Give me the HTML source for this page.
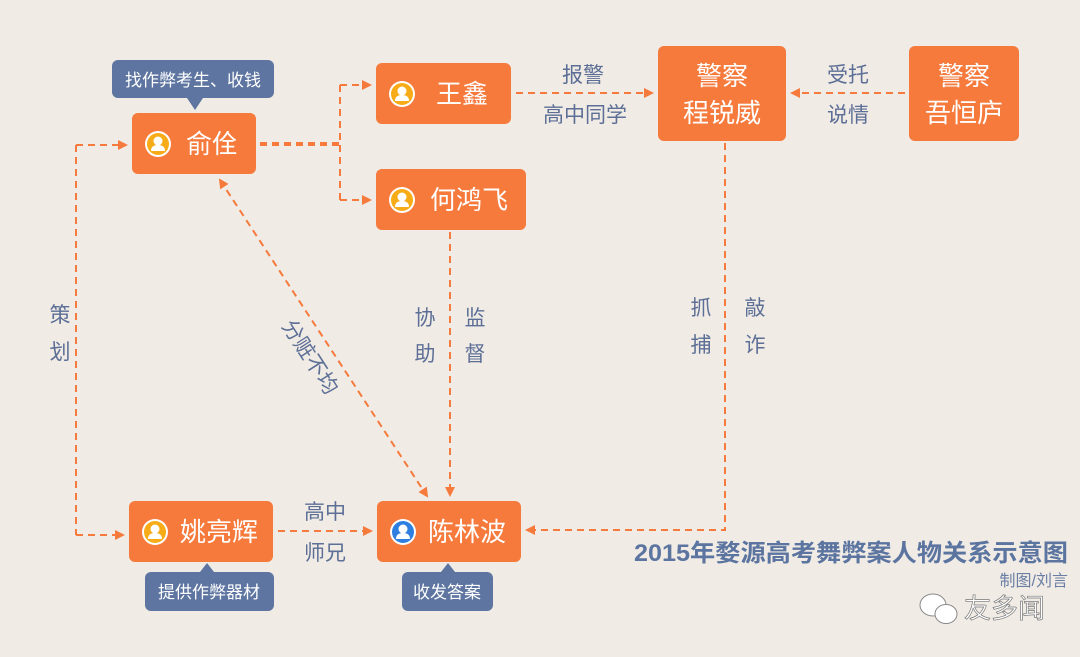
<!DOCTYPE html>
<html><head><meta charset="utf-8"><style>
html,body{margin:0;padding:0;background:#f0ebe5;}
svg{display:block;}
text{font-family:"Liberation Sans","Noto Sans CJK SC",sans-serif;}
</style></head><body>
<svg width="1080" height="657" viewBox="0 0 1080 657" xmlns="http://www.w3.org/2000/svg">
<defs>
<marker id="ah" markerWidth="10" markerHeight="10" refX="8" refY="5" orient="auto" markerUnits="userSpaceOnUse"><path d="M0,0 L10,5 L0,10 Z" fill="#f57a3c"/></marker>
<marker id="ahs" markerWidth="10" markerHeight="10" refX="2" refY="5" orient="auto" markerUnits="userSpaceOnUse"><path d="M10,0 L0,5 L10,10 Z" fill="#f57a3c"/></marker>
<g id="ico"><circle r="13" fill="#fff"/><circle r="11" fill="#f7ab16"/><circle cy="-3" r="4.5" fill="#fff"/><path d="M-7,7 Q-7,1 0,1 Q7,1 7,7 Z" fill="#fff"/></g>
<g id="icob"><circle r="13" fill="#fff"/><circle r="11" fill="#2f7fe0"/><circle cy="-3" r="4.5" fill="#fff"/><path d="M-7,7 Q-7,1 0,1 Q7,1 7,7 Z" fill="#fff"/></g>
</defs>
<g fill="none" stroke="#f57a3c" stroke-width="2" stroke-dasharray="7,5">
<path d="M260,144 L340,144" stroke-width="4"/>
<path d="M340,85 L340,200"/>
<path d="M340,85 L370,85" marker-end="url(#ah)"/>
<path d="M340,200 L370,200" marker-end="url(#ah)"/>
<path d="M516,93 L652,93" marker-end="url(#ah)"/>
<path d="M905,93 L792,93" marker-end="url(#ah)"/>
<path d="M725,143 L725,530 L527,530" marker-end="url(#ah)"/>
<path d="M450,232 L450,495" marker-end="url(#ah)"/>
<path d="M76,145 L76,535"/>
<path d="M76,145 L126,145" marker-end="url(#ah)"/>
<path d="M76,535 L123,535" marker-end="url(#ah)"/>
<path d="M220,180 L427,496" marker-start="url(#ahs)" marker-end="url(#ah)"/>
<path d="M278,531 L371,531" marker-end="url(#ah)"/>
</g>
<g fill="#f57a3c">
<rect x="132" y="113" width="124" height="61" rx="6"/>
<rect x="376" y="63" width="135" height="61" rx="6"/>
<rect x="376" y="169" width="150" height="61" rx="6"/>
<rect x="658" y="46" width="128" height="95" rx="6"/>
<rect x="909" y="46" width="110" height="95" rx="6"/>
<rect x="129" y="501" width="144" height="61" rx="6"/>
<rect x="377" y="501" width="144" height="61" rx="6"/>
</g>
<g fill="#5d75a0">
<rect x="112" y="60" width="162" height="38" rx="6"/><path d="M187,98 L203,98 L195,110 Z"/>
<rect x="145" y="572" width="129" height="39" rx="6"/><path d="M200,572 L214,572 L207,563 Z"/>
<rect x="402" y="572" width="91" height="39" rx="6"/><path d="M441,572 L455,572 L448,563 Z"/>
</g>
<use href="#ico" x="158" y="144"/><use href="#ico" x="402" y="94"/><use href="#ico" x="402" y="200"/><use href="#ico" x="155" y="532"/><use href="#icob" x="403" y="532"/>
<g fill="#fff" font-size="26">
<text x="186" y="153">俞佺</text>
<text x="436" y="103">王鑫</text>
<text x="430" y="209">何鸿飞</text>
<text x="180" y="541">姚亮辉</text>
<text x="428" y="541">陈林波</text>
<text x="722" y="85" text-anchor="middle">警察</text>
<text x="722" y="122" text-anchor="middle">程锐威</text>
<text x="964" y="85" text-anchor="middle">警察</text>
<text x="964" y="122" text-anchor="middle">吾恒庐</text>
</g>
<g fill="#fff" font-size="17">
<text x="193" y="86" text-anchor="middle">找作弊考生、收钱</text>
<text x="209" y="598" text-anchor="middle">提供作弊器材</text>
<text x="447" y="598" text-anchor="middle">收发答案</text>
</g>
<g fill="#5d6f96" font-size="21" text-anchor="middle">
<text x="583" y="82">报警</text><text x="585" y="122">高中同学</text>
<text x="848" y="82">受托</text><text x="848" y="122">说情</text>
<text x="701" y="315">抓</text><text x="701" y="352">捕</text>
<text x="755" y="315">敲</text><text x="755" y="352">诈</text>
<text x="425" y="325">协</text><text x="425" y="361">助</text>
<text x="475" y="325">监</text><text x="475" y="361">督</text>
<text x="60" y="322">策</text><text x="60" y="359">划</text>
<text x="325" y="519">高中</text><text x="325" y="560">师兄</text>
<text transform="translate(310,357) rotate(57)" x="0" y="7">分赃不均</text>
</g>
<text x="1068" y="561" text-anchor="end" font-size="24" font-weight="bold" fill="#5b74a0" textLength="434" lengthAdjust="spacingAndGlyphs">2015年婺源高考舞弊案人物关系示意图</text>
<text x="1068" y="586" text-anchor="end" font-size="16" fill="#6b7fa5">制图/刘言</text>
<g fill="#fff" stroke="#888" stroke-width="1">
<ellipse cx="933" cy="605" rx="13" ry="11"/><ellipse cx="946" cy="614" rx="11" ry="9.5"/>
</g>
<text x="964" y="618" font-size="27" fill="#fff" stroke="#777" stroke-width="0.7">友多闻</text>
</svg>
</body></html>
